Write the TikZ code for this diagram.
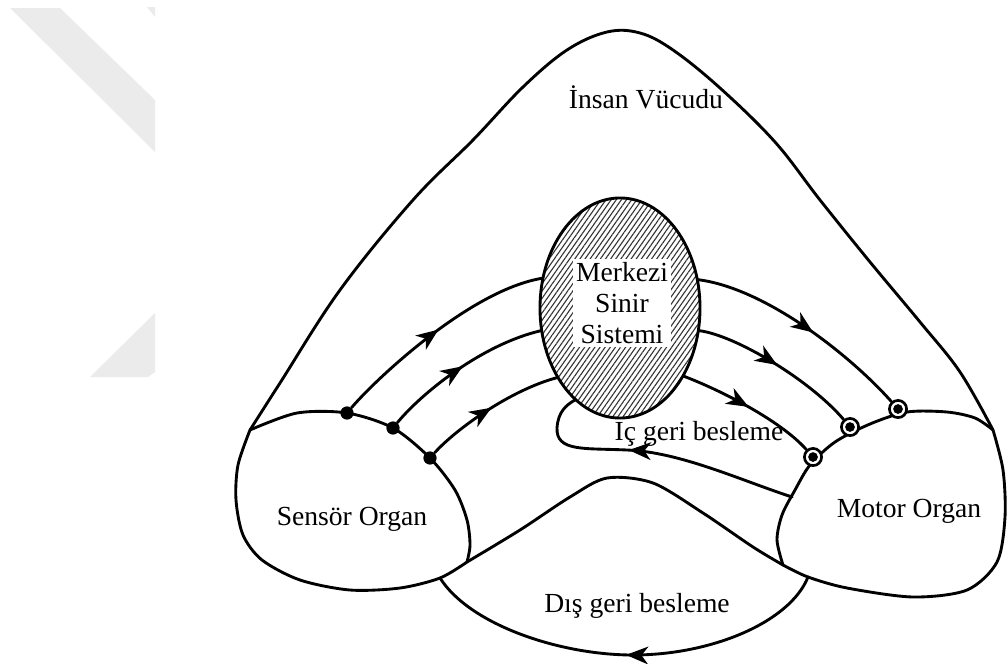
\documentclass[tikz,border=0pt]{standalone}
\usepackage{fontspec}
\setmainfont{Liberation Serif}
\usetikzlibrary{arrows.meta,decorations.markings,patterns.meta,shapes.geometric}

\begin{document}
\begin{tikzpicture}[x=0.453pt,y=-0.453pt,
    line cap=round, line join=round,
    every node/.style={font=\fontsize{12.5pt}{14pt}\selectfont},
    organ/.style={line width=1.3pt},
    sinir/.style={line width=1.3pt, postaction={decorate},
      decoration={markings, mark=at position #1 with {\arrow{Stealth[length=10pt,width=8pt,inset=3pt]}}}},
    sinir/.default=0.5,
    nokta/.style={circle, fill, inner sep=0pt, minimum size=6pt},
    halka/.style={circle, draw, line width=1.2pt, fill=white, inner sep=0pt, minimum size=7.8pt},
    mss/.style={ellipse, draw, line width=1.3pt, minimum width=72.5pt, minimum height=99.7pt,
      pattern={Lines[angle=55,distance=1.9pt,line width=0.5pt]}, pattern color=black!80},
    kutu/.style={fill=white, align=center, inner sep=1.5pt}]
  \useasboundingbox (0,0) rectangle (1008,663);

  % filigran
  \fill[black!8] (10,8) -- (60,8) -- (155,100) -- (155,152) -- cycle;
  \fill[black!8] (147,7) -- (155,7) -- (155,17) -- cycle;
  \fill[black!8] (90,377) -- (148,377) -- (155,372) -- (155,313) -- cycle;

  % insan vucudu
  \draw[organ] plot[smooth, tension=0.6] coordinates {(250,430) (280,383) (340,290) (413,200)
    (473,140) (523,87) (567,50) (607,32) (640,33) (673,50) (720,88) (775,142) (820,200)
    (870,262) (920,322) (960,372) (993,430)};

  % sensor organ
  \draw[organ] plot[smooth] coordinates {(250,430) (297,413) (347,413) (393,428) (430,458)
      (455,490) (467,520) (470,545) (467,562)}
    plot[smooth] coordinates {(467,562) (440,578) (400,588) (350,590) (300,580) (262,560)
      (243,535) (236,500) (238,465) (250,430)};

  % motor organ
  \draw[organ] plot[smooth] coordinates {(993,430) (975,418) (947,412) (907,412) (870,424)
      (835,442) (810,465) (795,490) (782,515) (777,540) (783,565)}
    plot[smooth] coordinates {(783,565) (808,577) (847,588) (913,597) (967,590) (997,562)
      (1005,517) (1003,470) (993,430)};

  % alt sinir
  \draw[organ] plot[smooth] coordinates {(467,562) (520,530) (570,497) (607,478) (653,483)
    (703,513) (753,547) (783,565)};

  % merkezi sinir sistemi
  \node[mss] (mss) at (620,308) {};
  \node[kutu] (mssyazi) at (622,303) {Merkezi\\Sinir\\Sistemi};

  % uclar
  \node[nokta] (s1) at (347,413) {};
  \node[nokta] (s2) at (393,428) {};
  \node[nokta] (s3) at (430,458) {};
  \node[halka] (m1) at (898,409) {};
  \node[halka] (m2) at (850,427) {};
  \node[halka] (m3) at (813,457) {};
  \foreach \m in {m1,m2,m3}
    \fill (\m.center) circle (2.2pt);
  \coordinate (im) at (792,497);
  \coordinate (ds) at (440,578);
  \coordinate (dm) at (808,577);

  % duyu yollari
  \draw[sinir] (s1) .. controls (375,380) and (470,290) .. (mss.159);
  \draw[sinir] (s2) .. controls (420,395) and (480,345) .. (mss.196);
  \draw[sinir] (s3) .. controls (455,430) and (510,390) .. (mss.228);

  % motor yollari
  \draw[sinir=0.55] (mss.20) .. controls (765,288) and (850,355) .. (m1);
  \draw[sinir] (mss.344) .. controls (735,335) and (810,380) .. (m2);
  \draw[sinir] (mss.313) .. controls (720,390) and (780,420) .. (m3);

  % ic geri besleme
  \draw[sinir=0.59] (im) .. controls (740,480) and (680,452) .. (627,450)
    .. controls (585,448) and (556,452) .. (557,428)
    .. controls (558,412) and (566,405) .. (mss.244);

  % dis geri besleme
  \draw[sinir] (dm) .. controls (790,622) and (712,655) .. (633,655)
    .. controls (560,655) and (470,625) .. (ds);

  \node[anchor=base] (govde) at (646,108) {İnsan Vücudu};
  \node[anchor=base] (sensor) at (352,525) {Sensör Organ};
  \node[anchor=base] (motor) at (909,517) {Motor Organ};
  \node[anchor=base] (ic) at (699,440) {Iç geri besleme};
  \node[anchor=base] (dis) at (637,612) {Dış geri besleme};
\end{tikzpicture}
\end{document}
